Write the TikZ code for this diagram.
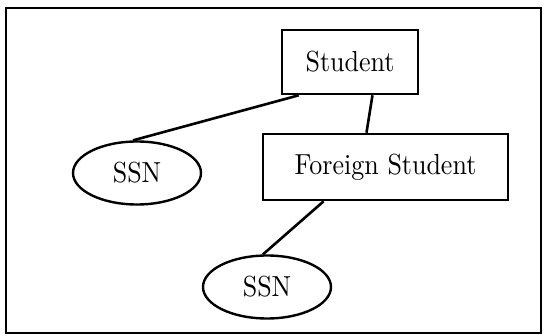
\documentclass[tikz,border=0pt]{standalone}
\usepackage{tikz}
\usetikzlibrary{shapes.geometric}

\newcommand{\biglabel}[1]{\scalebox{2.6}[2.9]{#1}}

\begin{document}
\begin{tikzpicture}[x=1pt, y=-1pt,
    entity/.style={draw, line width=2.6pt, rectangle, inner sep=0pt},
    attrib/.style={draw, line width=2.4pt, ellipse, inner sep=0pt, minimum width=128pt, minimum height=63pt},
    link/.style={line width=2.6pt}]

\useasboundingbox (0,0) rectangle (549,336);

% Frame
\draw[line width=2.4pt] (6,8) rectangle (541,333);

% Entities
\node[entity, minimum width=136pt, minimum height=64pt] (student) at (350,62) {\biglabel{Student}};
\node[entity, minimum width=245pt, minimum height=66pt] (foreign) at (385.5,167) {\biglabel{Foreign Student}\hspace{18pt}};

% Attributes
\node[attrib] (ssnA) at (137,173) {\biglabel{SSN}};
\node[attrib] (ssnB) at (267,287) {\biglabel{SSN}};

% Links
\draw[link] (student.213.7) -- (ssnA.97);
\draw[link] (student.304.5) -- (foreign.119.3);
\draw[link] (foreign.209.4) -- (ssnB.97);

\end{tikzpicture}
\end{document}
